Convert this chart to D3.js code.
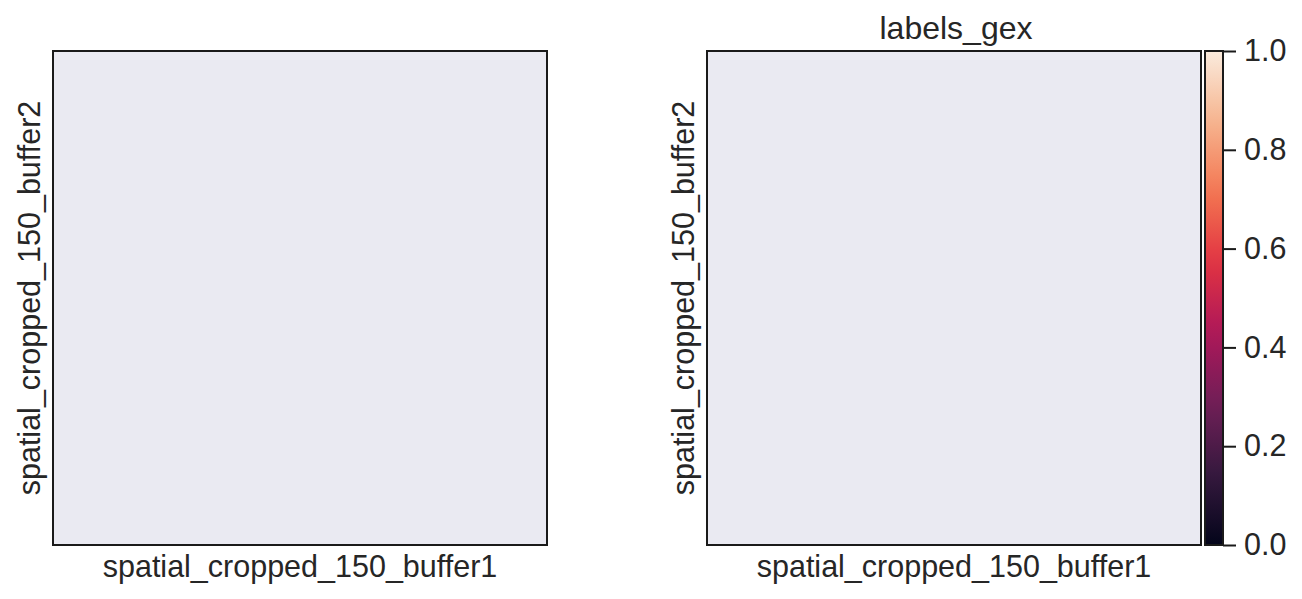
<!DOCTYPE html>
<html>
<head>
<meta charset="utf-8">
<script src="https://cdn.jsdelivr.net/npm/d3@7"></script>
<style>
  body { margin: 0; background: #fff; }
  svg { display: block; font-family: "Liberation Sans", Arial, sans-serif; }
</style>
</head>
<body>
<svg id="chart" width="1302" height="599"></svg>
<script>
// panel texts
const panelTitles = ['', 'labels_gex'];
const xLabels = ['spatial_cropped_150_buffer1', 'spatial_cropped_150_buffer1'];
const yLabels = ['spatial_cropped_150_buffer2', 'spatial_cropped_150_buffer2'];
// colorbar
const cbTicks = [0.0, 0.2, 0.4, 0.6, 0.8, 1.0];
const rocketStops = [0, 1 / 7, 2 / 7, 3 / 7, 4 / 7, 5 / 7, 6 / 7, 1];
const rocketColors = ['#03051a', '#35193e', '#701f57', '#ad1759', '#e13342', '#f37651', '#f6b48f', '#faebdd'];

const svg = d3.select('#chart');
const textColor = '#262626';
const fontSize = 30.5;

const panelLefts = [53, 707];
const panelTop = 51, size = 494;

const rocket = d3.scaleLinear().domain(rocketStops).range(rocketColors);

panelLefts.forEach((left, i) => {
  const g = svg.append('g').attr('transform', `translate(${left},${panelTop})`);

  g.append('rect')
    .attr('width', size)
    .attr('height', size)
    .attr('fill', '#eaeaf2')
    .attr('stroke', '#1a1a1a')
    .attr('stroke-width', 2);

  g.append('text')
    .attr('x', size / 2)
    .attr('y', 526)
    .attr('text-anchor', 'middle')
    .attr('font-size', fontSize)
    .attr('fill', textColor)
    .text(xLabels[i]);

  g.append('text')
    .attr('transform', `translate(${40 - 53},${size / 2}) rotate(-90)`)
    .attr('text-anchor', 'middle')
    .attr('font-size', fontSize)
    .attr('fill', textColor)
    .text(yLabels[i]);

  if (panelTitles[i]) {
    g.append('text')
      .attr('x', size / 2 + 2)
      .attr('y', 39 - panelTop)
      .attr('text-anchor', 'middle')
      .attr('font-size', 32)
      .attr('fill', textColor)
      .text(panelTitles[i]);
  }
});

// colorbar
const cbX = 1205, cbW = 18;
const cbScale = d3.scaleLinear().domain([0, 1]).range([panelTop + size, panelTop]);

const grad = svg.append('defs').append('linearGradient')
  .attr('id', 'rocket')
  .attr('x1', 0).attr('y1', 1).attr('x2', 0).attr('y2', 0);
d3.range(0, 1.0001, 0.05).forEach(t => {
  grad.append('stop').attr('offset', t).attr('stop-color', rocket(t));
});

svg.append('rect')
  .attr('x', cbX)
  .attr('y', panelTop)
  .attr('width', cbW)
  .attr('height', size)
  .attr('fill', 'url(#rocket)')
  .attr('stroke', '#1a1a1a')
  .attr('stroke-width', 2);

const cbAxis = d3.axisRight(cbScale)
  .tickValues(cbTicks)
  .tickFormat(d3.format('.1f'))
  .tickSize(13)
  .tickPadding(8);

const ax = svg.append('g')
  .attr('transform', `translate(${cbX + cbW},0)`)
  .call(cbAxis);
ax.select('.domain').remove();
ax.selectAll('.tick line').attr('stroke', '#1a1a1a').attr('stroke-width', 2);
ax.selectAll('.tick text')
  .attr('font-size', fontSize)
  .attr('font-family', '"Liberation Sans", Arial, sans-serif')
  .attr('fill', textColor);
</script>
</body>
</html>
